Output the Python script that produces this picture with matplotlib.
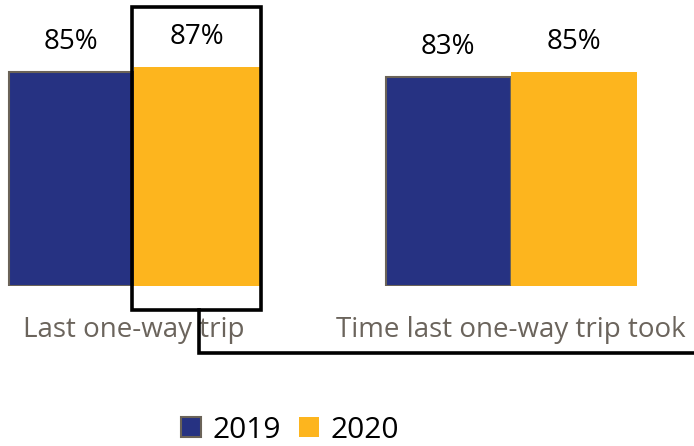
import matplotlib
matplotlib.use("Agg")
import matplotlib.pyplot as plt
from matplotlib.patches import Patch, Rectangle
from matplotlib.lines import Line2D
import numpy as np

categories = ["Last one-way trip", "Time last one-way trip took"]
years = ["2019", "2020"]
values_2019 = [85, 83]
values_2020 = [87, 85]

blue = "#263282"
yellow = "#FDB51E"
edge_gray = "#6b6358"
text_gray = "#6b645c"

plt.rcParams['font.family'] = ['Open Sans', 'DejaVu Sans']

W, H = 694, 446
fig = plt.figure(figsize=(W / 100, H / 100), dpi=100)

# data axes placed so that bars fall at the same pixel positions
base_px = 286  # from top
ax = fig.add_axes([0, (H - base_px) / H, 1, base_px / H])
ppu_x = 377.0
xc0 = 134.0
ax.set_xlim(-xc0 / ppu_x, (W - xc0) / ppu_x)
ppu_y = 2.52
ax.set_ylim(0, base_px / ppu_y)
ax.axis("off")

x = np.arange(len(categories))
bw = 125.5 / ppu_x
b1 = ax.bar(x - bw / 2, values_2019, bw, color=blue, edgecolor=edge_gray, linewidth=1.5)
b2 = ax.bar(x + bw / 2, values_2020, bw, color=yellow, edgecolor="none", linewidth=0)

for bars, vals in ((b1, values_2019), (b2, values_2020)):
    for r, v in zip(bars, vals):
        ax.annotate(f"{v}%", (r.get_x() + r.get_width() / 2, v), xytext=(0, 21.5),
                    textcoords="offset points", ha="center", va="center",
                    fontsize=20, color="black")

# category labels
for i, c in enumerate(categories):
    ax.annotate(c, (x[i], 0), xytext=(0, -32), textcoords="offset points",
                ha="center", va="center", fontsize=20, color=text_gray,
                annotation_clip=False)

# overlay axes in pixel coords for highlight box and connector
ov = fig.add_axes([0, 0, 1, 1], zorder=5)
ov.set_xlim(0, W)
ov.set_ylim(H, 0)
ov.axis("off")
ov.patch.set_alpha(0)
ov.add_patch(Rectangle((132.5, 6.5), 129, 303, fill=False, edgecolor="black", linewidth=2.6))
ov.add_line(Line2D([199, 199, W], [310, 353, 353], color="black", linewidth=2.6,
                   solid_joinstyle="miter"))

handles = [Patch(facecolor=blue, edgecolor=edge_gray, linewidth=1.5),
           Patch(facecolor=yellow, edgecolor="none")]
fig.legend(handles, years, loc="center", bbox_to_anchor=(290 / W, 1 - 430 / H),
           ncol=2, frameon=False, fontsize=21.5, handlelength=0.66, handleheight=0.66,
           handletextpad=0.4, columnspacing=0.6, borderaxespad=0)

fig.savefig("out.png", dpi=100)
